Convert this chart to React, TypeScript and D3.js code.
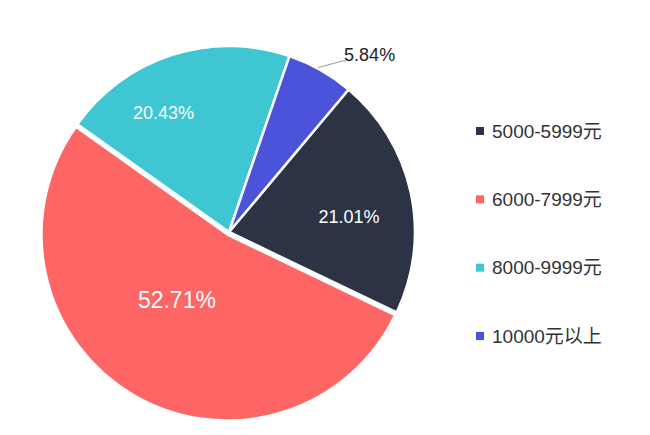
import React, { useEffect, useRef } from 'react';
import * as d3 from 'd3';

// salary bands and their shares (%)
const categories = ['5000-5999元', '6000-7999元', '8000-9999元', '10000元以上'];
const shares = [21.01, 52.71, 20.43, 5.84];
const colors = ['#2c3345', '#fe6666', '#3ec6d3', '#4a53da'];

// label placement: [radius fraction, angle nudge in degrees, font size], null = outside label
const labelLayout: ([number, number, number] | null)[] = [
  [0.65, 5, 18],
  [0.46, 7, 23],
  [0.73, -11, 18],
  null,
];

const W = 650;
const H = 435;
const deg = Math.PI / 180;

const App: React.FC = () => {
  const svgRef = useRef<SVGSVGElement>(null);

  useEffect(() => {
    const svg = d3.select(svgRef.current);
    svg.selectAll('*').remove();

    const cx = 229;
    const cy = 232;
    const r = 186;
    const font = '"Liberation Sans", Arial, "Noto Sans CJK SC", sans-serif';

    const data = categories.map((c, i) => ({ name: c, value: shares[i], color: colors[i], idx: i }));

    const pie = d3.pie<any>()
      .sort(null)
      .value(d => d.value)
      .startAngle(40 * deg)
      .endAngle(40 * deg + 2 * Math.PI);

    const arcs = pie(data);
    const arc = d3.arc<any>().innerRadius(0).outerRadius(r);

    const g = svg.append('g').attr('transform', `translate(${cx},${cy})`);

    // slices, the big one pulled out a little
    g.selectAll('path.slice')
      .data(arcs)
      .enter()
      .append('path')
      .attr('class', 'slice')
      .attr('d', arc as any)
      .attr('fill', d => d.data.color)
      .attr('stroke', '#fff')
      .attr('stroke-width', 2.5)
      .attr('stroke-linejoin', 'round')
      .attr('transform', d => {
        if (d.data.idx !== 1) return null;
        const mid = (d.startAngle + d.endAngle) / 2;
        const off = 3;
        return `translate(${Math.sin(mid) * off},${-Math.cos(mid) * off})`;
      });

    // inside labels
    arcs.forEach((d, i) => {
      const lay = labelLayout[i];
      if (!lay) return;
      const mid = (d.startAngle + d.endAngle) / 2 + lay[1] * deg;
      const lr = r * lay[0];
      g.append('text')
        .attr('x', Math.sin(mid) * lr)
        .attr('y', -Math.cos(mid) * lr)
        .attr('text-anchor', 'middle')
        .attr('dominant-baseline', 'central')
        .attr('fill', '#fff')
        .attr('font-family', font)
        .attr('font-size', lay[2])
        .text(`${d.data.value.toFixed(2)}%`);
    });

    // outside label with leader line
    arcs.forEach((d, i) => {
      if (labelLayout[i]) return;
      const mid = (d.startAngle + d.endAngle) / 2;
      const a0 = mid - 1 * deg;
      const a1 = mid + 4 * deg;
      const p0 = [Math.sin(a0) * (r + 1), -Math.cos(a0) * (r + 1)];
      const p1 = [Math.sin(a1) * (r + 19), -Math.cos(a1) * (r + 19)];
      const p2 = [p1[0] + 4, p1[1]];
      g.append('polyline')
        .attr('points', [p0, p1, p2].map(p => p.join(',')).join(' '))
        .attr('fill', 'none')
        .attr('stroke', '#9a9a9a')
        .attr('stroke-width', 1);
      g.append('text')
        .attr('x', p2[0] - 2)
        .attr('y', p2[1] - 6)
        .attr('dominant-baseline', 'central')
        .attr('fill', '#222')
        .attr('font-family', font)
        .attr('font-size', 18)
        .text(`${d.data.value.toFixed(2)}%`);
    });

    // legend
    const legendY = d3.scalePoint<string>().domain(categories).range([131, 336]);
    const lg = svg.append('g');
    categories.forEach((c, i) => {
      const y = legendY(c)!;
      lg.append('rect')
        .attr('x', 476)
        .attr('y', y - 4)
        .attr('width', 8)
        .attr('height', 8)
        .attr('fill', colors[i]);
      lg.append('text')
        .attr('x', 492)
        .attr('y', y)
        .attr('dominant-baseline', 'central')
        .attr('fill', '#333')
        .attr('font-family', font)
        .attr('font-size', 19)
        .text(c);
    });
  }, []);

  return (
    <svg
      ref={svgRef}
      width={W}
      height={H}
      style={{ position: 'absolute', left: 0, top: 0, background: '#fff' }}
    />
  );
};

export default App;
